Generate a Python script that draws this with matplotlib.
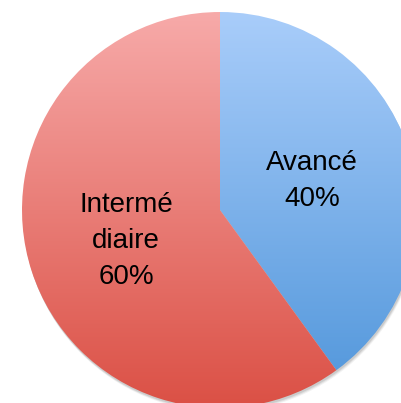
import matplotlib.pyplot as plt
import numpy as np
from matplotlib.colors import LinearSegmentedColormap

# slice data
labels = ["Avancé", "Intermé\ndiaire"]
shares = [40, 60]
pct_labels = ["40%", "60%"]

# top / bottom colours of each slice gradient
top_colors = ["#a9cdfa", "#f7aaa9"]
bottom_colors = ["#4f95da", "#db5045"]

W, H = 401, 403
fig = plt.figure(figsize=(W / 100, H / 100), dpi=100)
ax = fig.add_axes([0, 0, 1, 1])

cx, cy, r = 220, 193, 198

# soft shadow under the pie
for k, a in [(4, 0.05), (3, 0.07), (2, 0.09)]:
    ax.add_patch(plt.Circle((cx + k * 0.4, cy - k), r, color="#000000", alpha=a, lw=0))

wedges, _ = ax.pie(shares, center=(cx, cy), radius=r, startangle=90,
                   counterclock=False, frame=True,
                   wedgeprops=dict(linewidth=0))
ax.set_xlim(0, W)
ax.set_ylim(0, H)
ax.set_aspect("equal")
ax.axis("off")

grad = np.linspace(0, 1, 256).reshape(-1, 1)
for w, c0, c1 in zip(wedges, top_colors, bottom_colors):
    w.set_facecolor("none")
    cmap = LinearSegmentedColormap.from_list("g", [c0, c1])
    im = ax.imshow(grad, cmap=cmap, aspect="auto",
                   extent=(cx - r, cx + r, cy - r, cy + r), origin="upper", zorder=2)
    im.set_clip_path(w)

fs = 20
font = "Liberation Sans"
ax.text(312, H - 181, labels[0] + "\n" + pct_labels[0], ha="center", va="center",
        fontsize=fs, family=font, linespacing=1.5, zorder=3)
ax.text(126, H - 241, labels[1] + "\n" + pct_labels[1], ha="center", va="center",
        fontsize=fs, family=font, linespacing=1.5, zorder=3)

fig.savefig("out.png", dpi=100)
